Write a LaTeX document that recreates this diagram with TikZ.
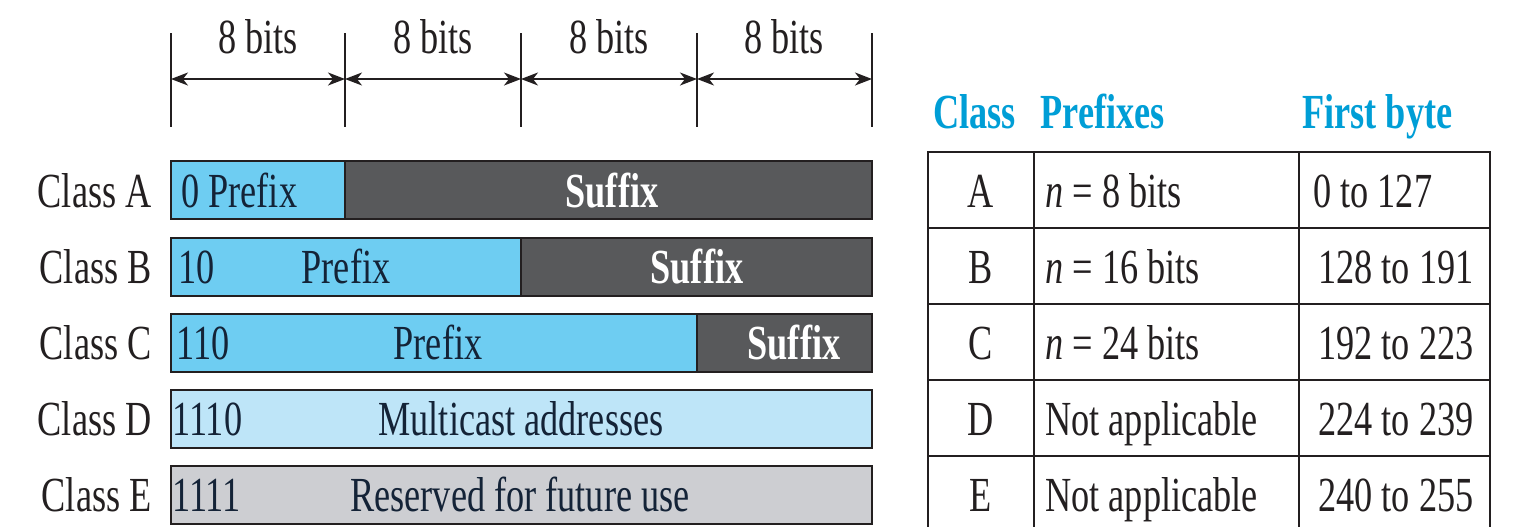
\documentclass[tikz,border=0pt]{standalone}
\usepackage{fontspec}
\usepackage{xcolor}
\usepackage{tikz}
\usetikzlibrary{arrows.meta}
\newfontfamily\narrowserif[FakeStretch=0.74]{Liberation Serif}
\newcommand{\figfont}{\narrowserif\fontsize{24.5}{28}\selectfont}
\definecolor{fdPrefix}{RGB}{110, 205, 242}
\definecolor{fdSuffix}{RGB}{88, 89, 91}
\definecolor{fdMulti}{RGB}{190, 229, 248}
\definecolor{fdReserved}{RGB}{205, 206, 210}
\definecolor{fdHead}{RGB}{0, 158, 214}
\definecolor{fdInk}{RGB}{35, 31, 32}
\definecolor{fdNavy}{RGB}{20, 35, 55}
\tikzset{
    base/.style={
        font=\figfont,
        inner sep=0pt
    },
    classlabel/.style={
        base,
        text=fdInk,
        anchor=base east
    },
    fieldtext/.style={
        base,
        text=fdNavy,
        anchor=base
    },
    suffixtext/.style={
        base,
        font=\figfont\bfseries,
        text=white,
        anchor=base
    },
    header/.style={
        base,
        font=\figfont\bfseries,
        text=fdHead,
        anchor=base west
    },
    cell/.style={
        base,
        text=fdInk,
        anchor=base west
    },
    barline/.style={
        draw=fdInk,
        line width=1.2pt
    },
    bitmark/.style={
        draw=fdInk,
        line width=0.7pt
    },
    widtharrow/.style={
        {Stealth[length=8.5pt, width=6.5pt, inset=2.5pt]}-{Stealth[length=8.5pt, width=6.5pt, inset=2.5pt]},
        line width=0.7pt,
        color=fdInk
    },
    tablerule/.style={
        draw=fdInk,
        line width=1pt
    }
}
\begin{document}
\begin{tikzpicture}[x=0.5pt, y=-0.5pt]
    \useasboundingbox (0,0) rectangle (1526,526);

    % Byte boundaries
    \coordinate (b0) at (171,79);
    \coordinate (b1) at (345,79);
    \coordinate (b2) at (521,79);
    \coordinate (b3) at (697,79);
    \coordinate (b4) at (872,79);
    \draw[bitmark] (171,33) -- (171,127);
    \draw[bitmark] (345,33) -- (345,127);
    \draw[bitmark] (521,33) -- (521,127);
    \draw[bitmark] (697,33) -- (697,127);
    \draw[bitmark] (872,33) -- (872,127);
    \draw[widtharrow] (b0) -- (b1);
    \draw[widtharrow] (b1) -- (b2);
    \draw[widtharrow] (b2) -- (b3);
    \draw[widtharrow] (b3) -- (b4);
    \node[fieldtext, text=fdInk] (w1) at (258,53) {8 bits};
    \node[fieldtext, text=fdInk] (w2) at (433,53) {8 bits};
    \node[fieldtext, text=fdInk] (w3) at (609,53) {8 bits};
    \node[fieldtext, text=fdInk] (w4) at (784,53) {8 bits};

    % Class A
    \fill[fdPrefix] (171,161) rectangle (345,219);
    \fill[fdSuffix] (345,161) rectangle (872,219);
    \draw[barline] (171,161) rectangle (872,219) (345,161) -- (345,219);
    \node[classlabel] (cA) at (152,207) {Class A};
    \node[fieldtext, anchor=base west] (pA) at (181,207) {0 Prefix};
    \node[suffixtext] (sA) at (612,207) {Suffix};

    % Class B
    \fill[fdPrefix] (171,238) rectangle (521,296);
    \fill[fdSuffix] (521,238) rectangle (872,296);
    \draw[barline] (171,238) rectangle (872,296) (521,238) -- (521,296);
    \node[classlabel] (cB) at (152,283) {Class B};
    \node[fieldtext, anchor=base west] (nB) at (178,283) {10};
    \node[fieldtext] (pB) at (346,283) {Prefix};
    \node[suffixtext] (sB) at (697,283) {Suffix};

    % Class C
    \fill[fdPrefix] (171,314) rectangle (697,372);
    \fill[fdSuffix] (697,314) rectangle (872,372);
    \draw[barline] (171,314) rectangle (872,372) (697,314) -- (697,372);
    \node[classlabel] (cC) at (152,359) {Class C};
    \node[fieldtext, anchor=base west] (nC) at (176,359) {110};
    \node[fieldtext] (pC) at (438,359) {Prefix};
    \node[suffixtext] (sC) at (794,359) {Suffix};

    % Class D
    \fill[fdMulti] (171,390) rectangle (872,448);
    \draw[barline] (171,390) rectangle (872,448);
    \node[classlabel] (cD) at (152,435) {Class D};
    \node[fieldtext, anchor=base west] (nD) at (172,435) {1110};
    \node[fieldtext] (pD) at (521,435) {Multicast addresses};

    % Class E
    \fill[fdReserved] (171,466) rectangle (872,524);
    \draw[barline] (171,466) rectangle (872,524);
    \node[classlabel] (cE) at (152,511) {Class E};
    \node[fieldtext, anchor=base west] (nE) at (172,511) {1111};
    \node[fieldtext] (pE) at (520,511) {Reserved for future use};

    % Table
    \node[header] (hClass) at (933,128) {Class};
    \node[header] (hPrefix) at (1040,128) {Prefixes};
    \node[header] (hByte) at (1302,128) {First byte};
    \draw[tablerule] (928,152) rectangle (1490,532);
    \draw[tablerule] (1034,152) -- (1034,532);
    \draw[tablerule] (1299,152) -- (1299,532);
    \draw[tablerule] (928,228) -- (1490,228);
    \draw[tablerule] (928,304) -- (1490,304);
    \draw[tablerule] (928,380) -- (1490,380);
    \draw[tablerule] (928,456) -- (1490,456);

    \node[cell, anchor=base] (tA) at (981,207) {A};
    \node[cell, anchor=base] (tB) at (981,283) {B};
    \node[cell, anchor=base] (tC) at (981,359) {C};
    \node[cell, anchor=base] (tD) at (981,435) {D};
    \node[cell, anchor=base] (tE) at (981,511) {E};

    \node[cell] (nA) at (1045,207) {\textit{n} = 8 bits};
    \node[cell] (nB2) at (1045,283) {\textit{n} = 16 bits};
    \node[cell] (nC2) at (1045,359) {\textit{n} = 24 bits};
    \node[cell] (nD2) at (1045,435) {Not applicable};
    \node[cell] (nE2) at (1045,511) {Not applicable};

    \node[cell] (fA) at (1313,207) {0 to 127};
    \node[cell] (fB) at (1318,283) {128 to 191};
    \node[cell] (fC) at (1318,359) {192 to 223};
    \node[cell] (fD) at (1318,435) {224 to 239};
    \node[cell] (fE) at (1318,511) {240 to 255};
\end{tikzpicture}
\end{document}
